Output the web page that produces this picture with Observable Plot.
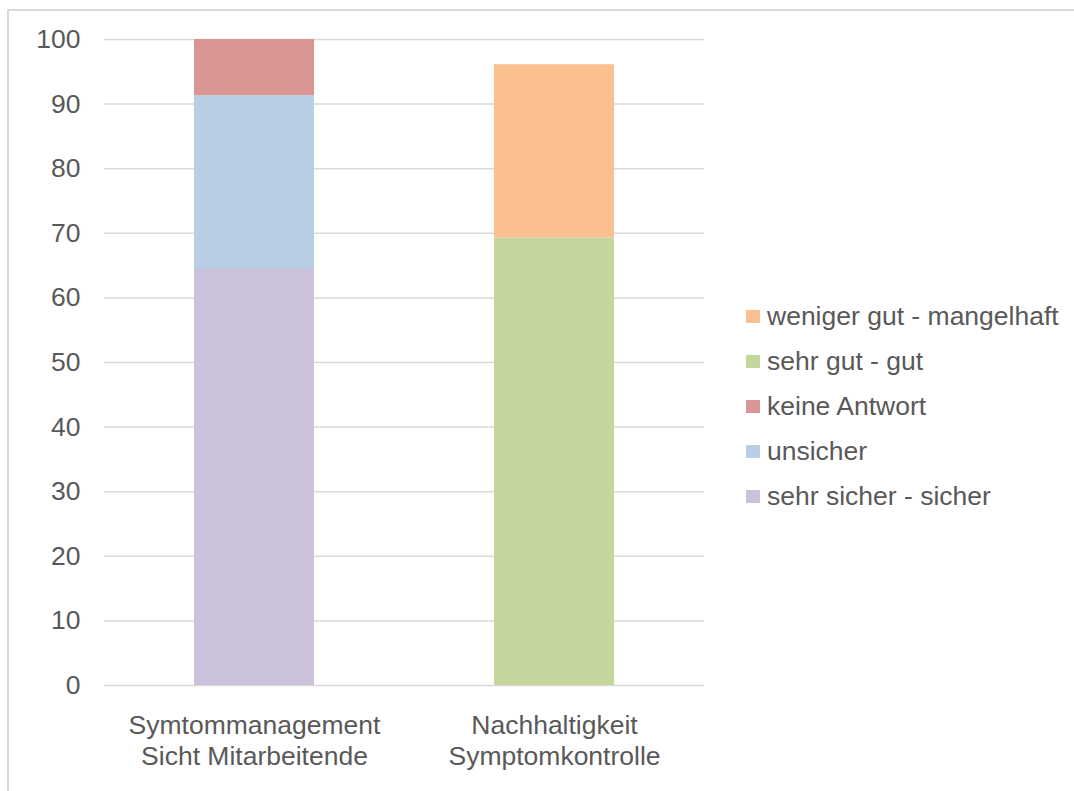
<!DOCTYPE html>
<html>
<head>
<meta charset="utf-8">
<script src="https://cdn.jsdelivr.net/npm/d3@7"></script>
<script src="https://cdn.jsdelivr.net/npm/@observablehq/plot@0.6"></script>
<style>
  html, body { margin: 0; padding: 0; background: #fff; width: 1074px; height: 791px; overflow: hidden; }
  #topline { position: absolute; left: 7px; top: 9px; width: 1067px; height: 2px; background: #d9d9d9; }
  #leftline { position: absolute; left: 7px; top: 9px; width: 2px; height: 782px; background: #d9d9d9; }
  #chart { position: absolute; left: 0; top: 0; }
  #legend { position: absolute; left: 746px; top: 294px; font-family: "Liberation Sans", Arial, sans-serif; font-size: 26.5px; color: #595959; }
  .item { height: 45px; display: flex; align-items: center; white-space: nowrap; }
  .sw { width: 14px; height: 13px; margin-right: 7px; }
</style>
</head>
<body>
<div id="topline"></div>
<div id="leftline"></div>
<div id="chart"></div>
<div id="legend"></div>
<script>
const categories = ["Symtommanagement Sicht Mitarbeitende", "Nachhaltigkeit Symptomkontrolle"];
const categoryLabels = ["Symtommanagement\nSicht Mitarbeitende", "Nachhaltigkeit\nSymptomkontrolle"];
// series in stacking order (bottom to top), values per category
const seriesNames = ["sehr sicher - sicher", "unsicher", "keine Antwort", "sehr gut - gut", "weniger gut - mangelhaft"];
const seriesColors = ["#ccc1da", "#b9cde5", "#d99694", "#c3d69b", "#fac090"];
const sehrSicherSicher = [64.4, 0];
const unsicher = [26.9, 0];
const keineAntwort = [8.7, 0];
const sehrGutGut = [0, 69.3];
const wenigerGutMangelhaft = [0, 26.8];
const yTicks = [0, 10, 20, 30, 40, 50, 60, 70, 80, 90, 100];
const legendOrder = ["weniger gut - mangelhaft", "sehr gut - gut", "keine Antwort", "unsicher", "sehr sicher - sicher"];

const seriesValues = [sehrSicherSicher, unsicher, keineAntwort, sehrGutGut, wenigerGutMangelhaft];
const rows = [];
categories.forEach((c, i) => {
  seriesNames.forEach((s, j) => {
    if (seriesValues[j][i] > 0) rows.push({category: c, series: s, value: seriesValues[j][i]});
  });
});

const chart = Plot.plot({
  width: 730,
  height: 791,
  marginLeft: 104,
  marginRight: 26,
  marginTop: 39,
  marginBottom: 106,
  style: {fontFamily: "'Liberation Sans', Arial, sans-serif", fontSize: "26.5px", color: "#595959", background: "transparent"},
  x: {domain: categories, paddingInner: 0.6, paddingOuter: 0.3, label: null},
  y: {domain: [0, 100], label: null},
  color: {domain: seriesNames, range: seriesColors},
  marks: [
    Plot.ruleY(yTicks, {stroke: "#d9d9d9", strokeWidth: 1.5}),
    Plot.barY(rows, {x: "category", y: "value", fill: "series", order: seriesNames}),
    Plot.axisY(yTicks, {tickSize: 0, tickPadding: 24, fill: "#595959", fontSize: 26.5}),
    Plot.axisX({tickSize: 0, tickPadding: 26, fill: "#595959", fontSize: 26.5, lineHeight: 1.17,
      tickFormat: d => categoryLabels[categories.indexOf(d)]})
  ]
});
document.getElementById("chart").appendChild(chart);

const legend = document.getElementById("legend");
legendOrder.forEach(s => {
  const item = document.createElement("div");
  item.className = "item";
  const sw = document.createElement("div");
  sw.className = "sw";
  sw.style.background = seriesColors[seriesNames.indexOf(s)];
  const t = document.createElement("span");
  t.textContent = s;
  item.appendChild(sw);
  item.appendChild(t);
  legend.appendChild(item);
});
</script>
</body>
</html>
